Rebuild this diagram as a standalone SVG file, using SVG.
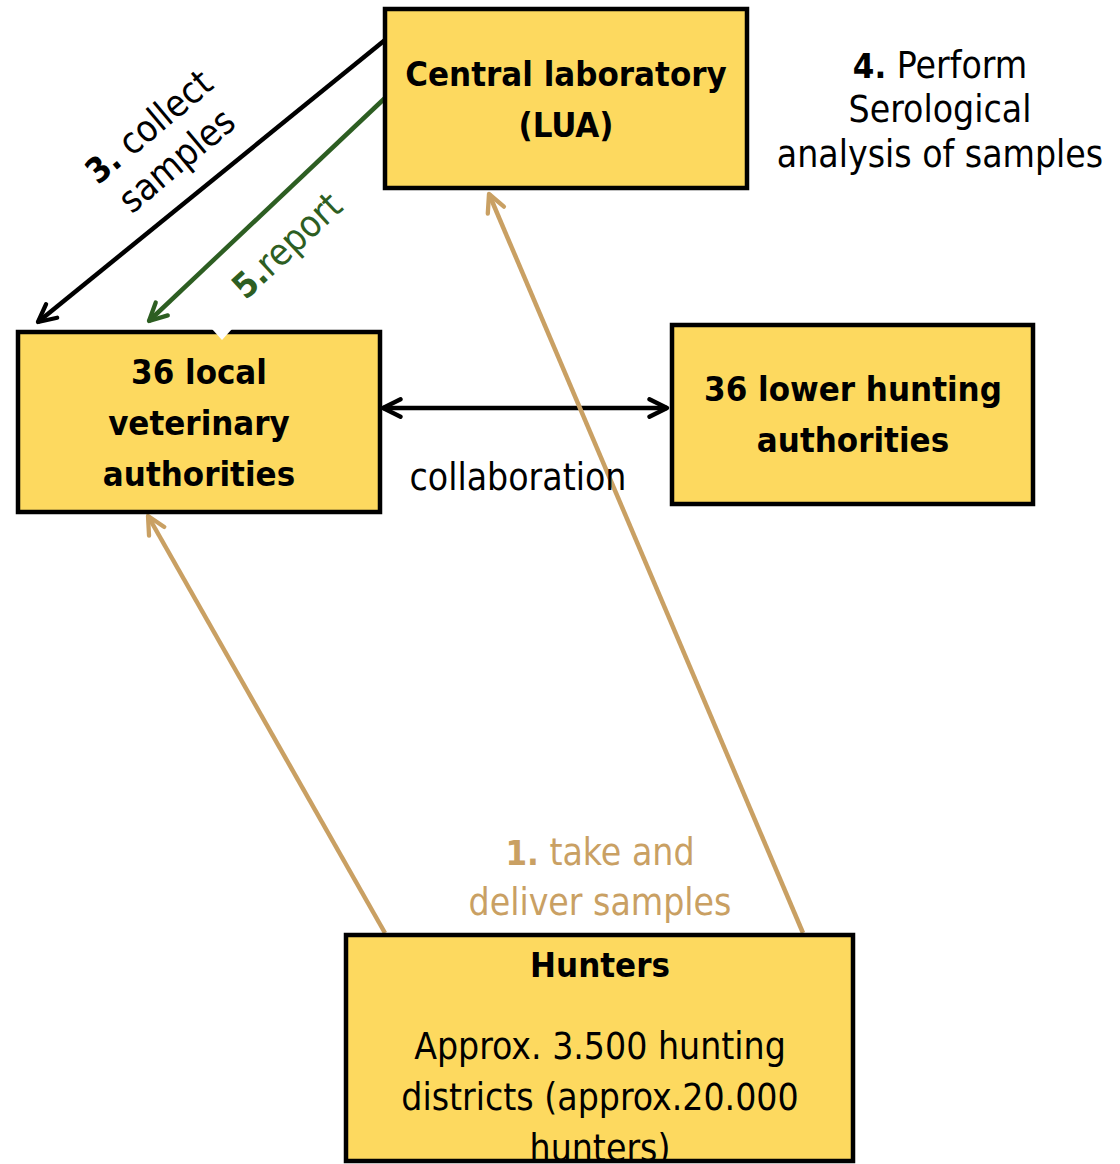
<svg xmlns="http://www.w3.org/2000/svg" width="1120" height="1164" viewBox="0 0 1120 1164">
<style>
.box{fill:#FDD95F;stroke:#000;stroke-width:4.5}
.t{font-family:"DejaVu Sans Condensed","DejaVu Sans",sans-serif;font-size:37px;text-anchor:middle;fill:#000}
.b{font-weight:bold;font-size:34.5px}
.tan{fill:#C9A063}
.grn{fill:#2D5E22}
.ln{fill:none;stroke-width:4.5}
</style>
<defs>
<marker id="ak" viewBox="0 0 12 12" refX="10.5" refY="6" markerWidth="5.2" markerHeight="5.2" orient="auto-start-reverse" markerUnits="strokeWidth">
<path d="M1.5,1.5 L10.5,6 L1.5,10.5" fill="none" stroke="#000" stroke-width="2.2" stroke-linecap="round" stroke-linejoin="round"/>
</marker>
<marker id="ag" viewBox="0 0 12 12" refX="10.5" refY="6" markerWidth="5.2" markerHeight="5.2" orient="auto" markerUnits="strokeWidth">
<path d="M1.5,1.5 L10.5,6 L1.5,10.5" fill="none" stroke="#2D5E22" stroke-width="2.2" stroke-linecap="round" stroke-linejoin="round"/>
</marker>
<marker id="at" viewBox="0 0 12 12" refX="10.5" refY="6" markerWidth="5.2" markerHeight="5.2" orient="auto" markerUnits="strokeWidth">
<path d="M1.5,1.5 L10.5,6 L1.5,10.5" fill="none" stroke="#C9A063" stroke-width="2.2" stroke-linecap="round" stroke-linejoin="round"/>
</marker>
<clipPath id="hc"><rect x="346" y="935" width="507" height="226"/></clipPath>
</defs>

<g id="connectors">
<line class="ln" x1="385" y1="40" x2="38" y2="322" stroke="#000" marker-end="url(#ak)"/>
<line class="ln" x1="385" y1="98" x2="149" y2="321" stroke="#2D5E22" marker-end="url(#ag)"/>
<line class="ln" x1="383" y1="408" x2="667" y2="408" stroke="#000" marker-start="url(#ak)" marker-end="url(#ak)"/>
<line class="ln" x1="385" y1="933" x2="148" y2="516" stroke="#C9A063" marker-end="url(#at)"/>
<line class="ln" x1="803" y1="933" x2="489" y2="194" stroke="#C9A063" marker-end="url(#at)"/>
</g>

<g id="label-collect" transform="translate(163,144) rotate(-40)">
<text class="t" x="0" y="-10"><tspan class="b">3.</tspan> collect</text>
<text class="t" x="0" y="34">samples</text>
</g>
<g id="label-report" transform="translate(287,246) rotate(-43)">
<text class="t grn" x="0" y="12"><tspan class="b">5.</tspan>report</text>
</g>

<g id="node-lab">
<rect class="box" x="385" y="9" width="362" height="179"/>
<text class="t b" x="566" y="86">Central laboratory</text>
<text class="t b" x="566" y="137">(LUA)</text>
</g>

<g id="label-perform">
<text class="t" x="940" y="78"><tspan class="b">4.</tspan> Perform</text>
<text class="t" x="940" y="122">Serological</text>
<text class="t" x="940" y="167">analysis of samples</text>
</g>

<g id="node-vet">
<rect class="box" x="18" y="332" width="362" height="180"/>
<polygon points="212,329 232,329 222,340" fill="#fff"/>
<text class="t b" x="199" y="384">36 local</text>
<text class="t b" x="199" y="435">veterinary</text>
<text class="t b" x="199" y="486">authorities</text>
</g>

<g id="label-collab">
<text class="t" x="518" y="490">collaboration</text>
</g>

<g id="node-hunting">
<rect class="box" x="672" y="325" width="361" height="179"/>
<text class="t b" x="853" y="401">36 lower hunting</text>
<text class="t b" x="853" y="452">authorities</text>
</g>

<g id="label-take">
<text class="t tan" x="600" y="865"><tspan class="b">1.</tspan> take and</text>
<text class="t tan" x="600" y="915">deliver samples</text>
</g>

<g id="node-hunters">
<rect x="346" y="935" width="507" height="226" fill="#FDD95F"/>
<g clip-path="url(#hc)">
<text class="t b" x="600" y="977">Hunters</text>
<text class="t" x="600" y="1059">Approx. 3.500 hunting</text>
<text class="t" x="600" y="1110">districts (approx.20.000</text>
<text class="t" x="600" y="1161">hunters)</text>
</g>
<rect x="346" y="935" width="507" height="226" fill="none" stroke="#000" stroke-width="4.5"/>
</g>
</svg>
